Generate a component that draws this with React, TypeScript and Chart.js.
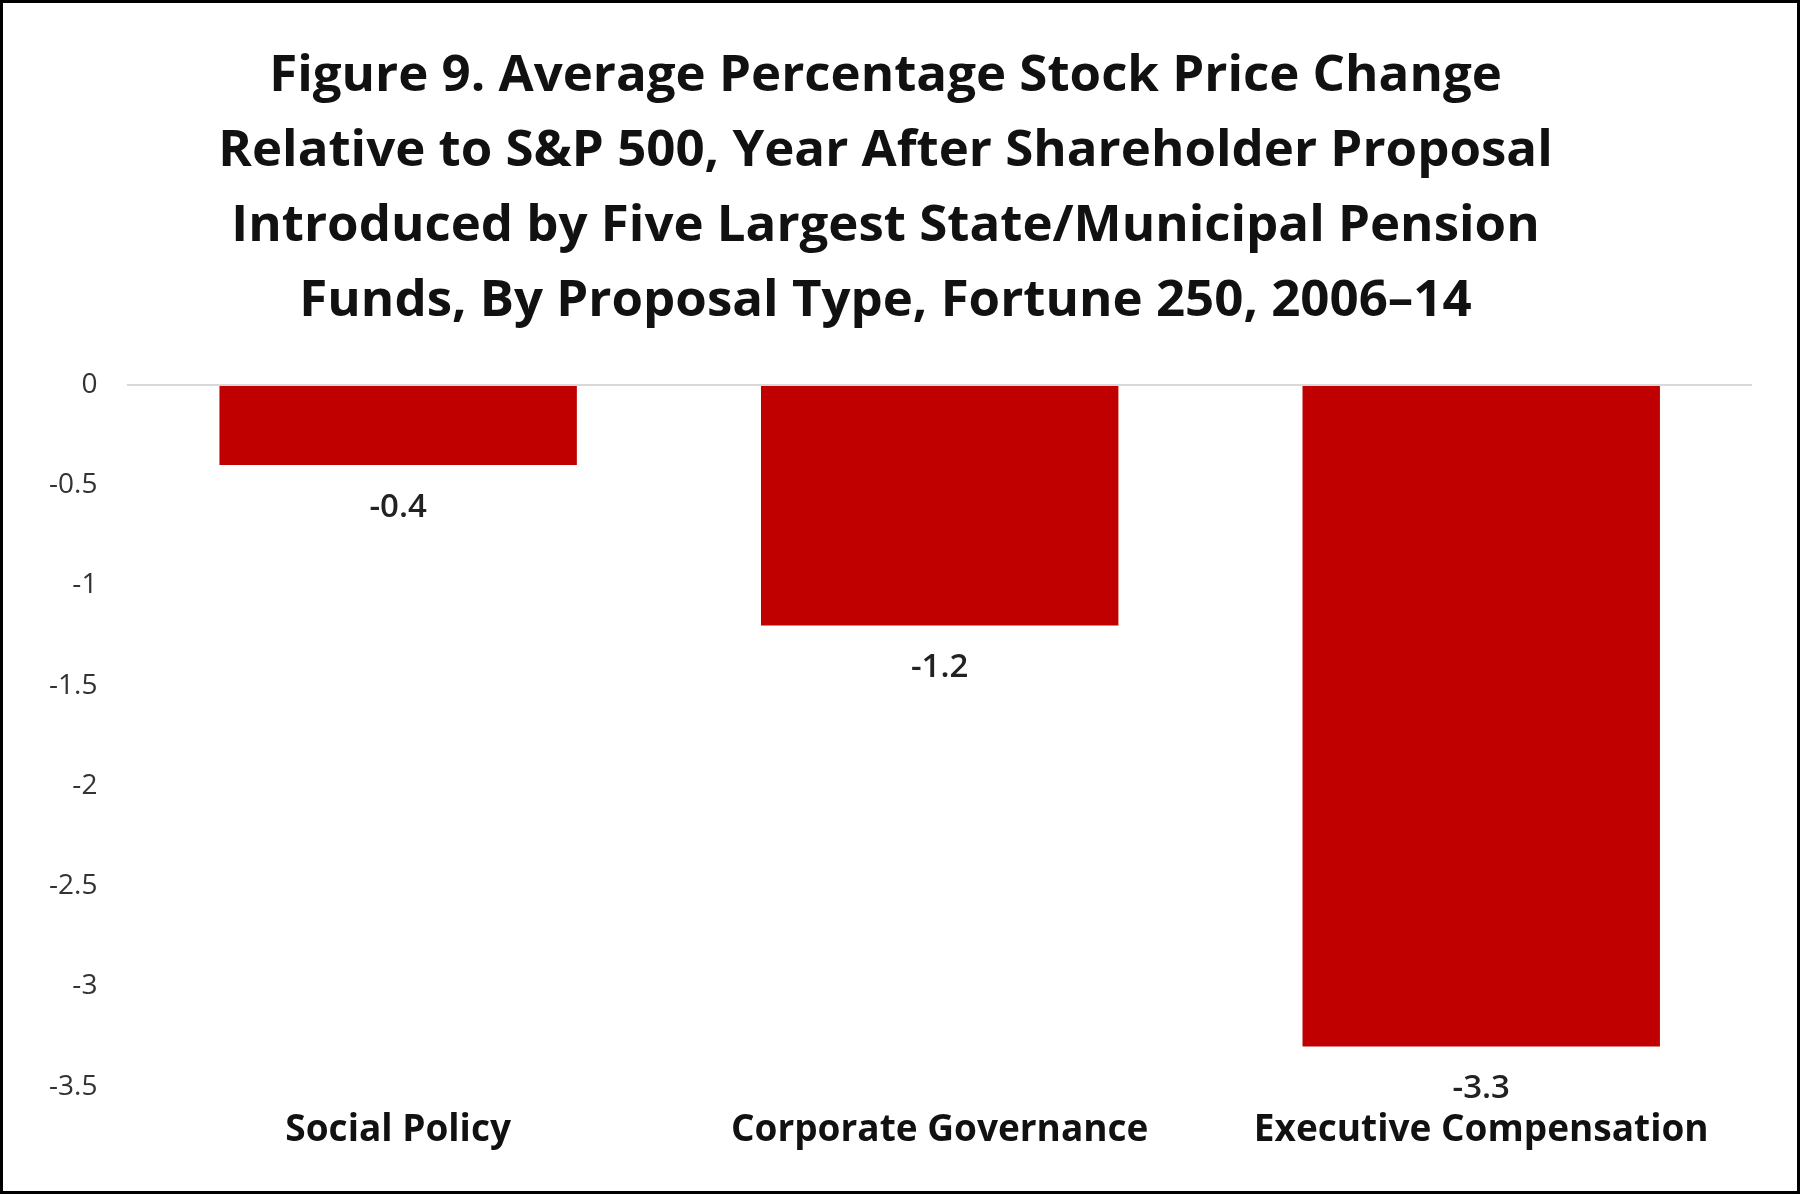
import React, { useEffect, useRef } from "react";
import { Chart, registerables } from "chart.js";
Chart.register(...registerables);

const categories = ["Social Policy", "Corporate Governance", "Executive Compensation"];
const values = [-0.4, -1.2, -3.3];
const titleLines = [
  "Figure 9. Average Percentage Stock Price Change",
  "Relative to S&P 500, Year After Shareholder Proposal",
  "Introduced by Five Largest State/Municipal Pension",
  "Funds, By Proposal Type, Fortune 250, 2006–14",
];
const FONT = "'Open Sans', 'Noto Sans', sans-serif";

const labelPlugin = {
  id: "valueLabels",
  afterDatasetsDraw(chart: any) {
    const ctx = chart.ctx;
    const meta = chart.getDatasetMeta(0);
    ctx.save();
    ctx.font = `600 33px ${FONT}`;
    ctx.fillStyle = "#222";
    ctx.textAlign = "center";
    ctx.textBaseline = "top";
    meta.data.forEach((bar: any, i: number) => {
      ctx.fillText(String(values[i]), bar.x, bar.y + 26);
    });
    ctx.restore();
  },
};

export default function App() {
  const ref = useRef<HTMLCanvasElement>(null);
  useEffect(() => {
    const chart = new Chart(ref.current!, {
      type: "bar",
      data: {
        labels: categories,
        datasets: [{ data: values, backgroundColor: "#c00000", barPercentage: 0.66, categoryPercentage: 1 }],
      },
      options: {
        animation: false,
        responsive: false,
        layout: { padding: { left: 16, right: 45, top: 10, bottom: 24 } },
        plugins: {
          legend: { display: false },
          tooltip: { enabled: false },
          title: {
            display: true,
            text: titleLines,
            color: "#111",
            font: { size: 51, weight: "bold", family: FONT, lineHeight: 1.47 },
            padding: { top: 26, bottom: 46 },
          },
        },
        scales: {
          y: {
            min: -3.5,
            max: 0,
            ticks: {
              stepSize: 0.5,
              color: "#333",
              font: { size: 28, family: FONT },
              padding: 30,
              callback: (v: any) => String(Number(v)),
            },
            border: { display: false },
            grid: { color: (c: any) => (c.tick && c.tick.value === 0 ? "#d9d9d9" : "transparent"), lineWidth: 2, drawTicks: false },
          },
          x: {
            ticks: { color: "#111", font: { size: 37, weight: "bold", family: FONT }, padding: 14 },
            border: { display: false },
            grid: { display: false },
          },
        },
      },
      plugins: [labelPlugin],
    });
    return () => chart.destroy();
  }, []);
  return (
    <div style={{ position: "absolute", left: 0, top: 0, width: 1800, height: 1194, border: "3px solid #000", boxSizing: "border-box", background: "#fff" }}>
      <canvas ref={ref} width={1794} height={1188} />
    </div>
  );
}
